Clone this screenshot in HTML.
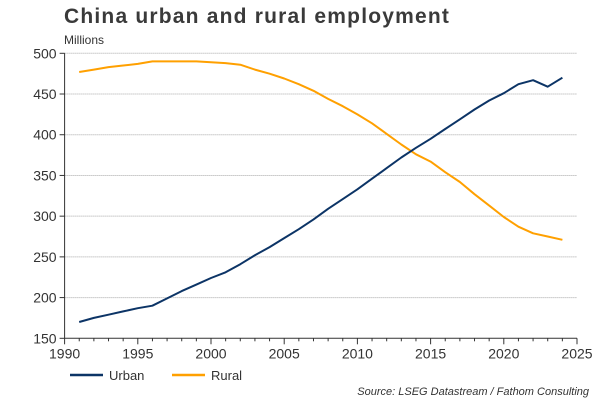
<!DOCTYPE html>
<html><head><meta charset="utf-8"><style>
body{margin:0;background:#fff;width:600px;height:400px;overflow:hidden;font-family:"Liberation Sans",Arial,sans-serif}
svg text{font-family:"Liberation Sans",Arial,sans-serif}
</style></head><body>
<svg id="c" width="600" height="400" xmlns="http://www.w3.org/2000/svg">
<text x="64" y="23" font-size="21" font-weight="bold" fill="#3a3a3a" letter-spacing="1.2">China urban and rural employment</text>
<text x="64" y="44" font-size="12" fill="#333">Millions</text>
<g id="grid"></g><g id="axes"></g><g id="series"></g>
<g>
<line x1="70" y1="375" x2="103" y2="375" stroke="#0c3466" stroke-width="2.5"/>
<text x="109" y="380" font-size="13" fill="#333">Urban</text>
<line x1="172" y1="375" x2="205" y2="375" stroke="#ffa000" stroke-width="2.5"/>
<text x="211" y="380" font-size="13" fill="#333">Rural</text>
</g>
<text x="589" y="395" font-size="11" font-style="italic" fill="#333" text-anchor="end">Source: LSEG Datastream / Fathom Consulting</text>
</svg>
<script>
const years=[1991,1992,1993,1994,1995,1996,1997,1998,1999,2000,2001,2002,2003,2004,2005,2006,2007,2008,2009,2010,2011,2012,2013,2014,2015,2016,2017,2018,2019,2020,2021,2022,2023,2024];
const urban=[170,175,179,183,187,190,199,208,216,224,231,241,252,262,273,284,296,309,321,333,346,359,372,384,395,407,419,431,442,451,462,467,459,470];
const rural=[477,480,483,485,487,490,490,490,490,489,488,486,480,475,469,462,454,444,435,425,414,401,388,376,367,354,342,327,313,299,287,279,275,271];
const yTicks=[150,200,250,300,350,400,450,500];
const xTicks=[1990,1995,2000,2005,2010,2015,2020,2025];
const NS="http://www.w3.org/2000/svg";
const X0=64.6,X1=577,Y0=338.3,Y1=53.3;
const sx=v=>X0+(v-1990)/(2025-1990)*(X1-X0);
const sy=v=>Y0-(v-150)/(500-150)*(Y0-Y1);
function mk(t,a,p){const e=document.createElementNS(NS,t);for(const k in a)e.setAttribute(k,a[k]);p.appendChild(e);return e;}
const grid=document.getElementById('grid'),axes=document.getElementById('axes'),ser=document.getElementById('series');
yTicks.forEach(v=>{
 if(v>150){const g=mk('line',{x1:X0,x2:X1,y1:sy(v),y2:sy(v),stroke:'#a8a8a8','stroke-width':1,'stroke-dasharray':'1,1'},grid);
 
 }
 const t=mk('line',{x1:X0-5,x2:X0,y1:sy(v),y2:sy(v),stroke:'#333'},axes);
 
 
 const l=mk('text',{x:X0-8,y:sy(v)+5,'font-size':14,fill:'#333','text-anchor':'end'},axes);l.textContent=v;
 
 
});
for(let y=1990;y<=2025;y++){
 const big=y%5===0;
 const t=mk('line',{x1:sx(y),x2:sx(y),y1:Y0,y2:Y0+(big?6:3),stroke:'#333'},axes);
 
 
}
xTicks.forEach(v=>{
 const l=mk('text',{x:sx(v),y:Y0+20,'font-size':14,fill:'#333','text-anchor':'middle'},axes);l.textContent=v;
 
 
});
const ya=mk('line',{x1:X0,x2:X0,y1:Y1,y2:Y0,stroke:'#333'},axes);


const xa=mk('line',{x1:X0,x2:X1,y1:Y0,y2:Y0,stroke:'#333'},axes);


function line(vals,col,name){
 const d=vals.map((v,i)=>(i?'L':'M')+sx(years[i]).toFixed(1)+','+sy(v).toFixed(1)).join('');
 const p=mk('path',{d:d,fill:'none',stroke:col,'stroke-width':2,'stroke-linejoin':'round'},ser);
 
 
}
line(rural,'#ffa000','rural-line');
line(urban,'#0c3466','urban-line');
</script>
</body></html>
